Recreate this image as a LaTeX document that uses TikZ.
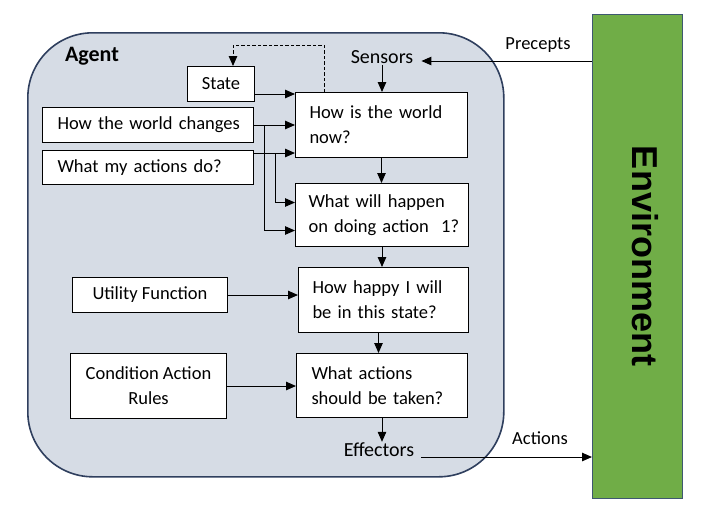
\documentclass[tikz,border=0pt]{standalone}
\usepackage{fontspec}
\setmainfont{Carlito}
\newfontfamily\envfont{Liberation Sans}
\usetikzlibrary{arrows.meta,calc}
\definecolor{agentfill}{HTML}{D6DCE5}
\definecolor{agentline}{HTML}{2F3F5E}
\definecolor{envfill}{HTML}{70AD47}
\definecolor{envline}{HTML}{3E5870}
\tikzset{
  box/.style={draw=black, line width=1pt, fill=white, anchor=north west, inner sep=0pt, font=\fontsize{18.5}{25}\selectfont},
  lbox/.style={box, align=left, inner xsep=14pt},
  cbox/.style={box, align=center},
  arr/.style={-{Triangle[length=10pt,width=8.5pt]}, line width=1pt},
  lbl/.style={font=\fontsize{18.5}{22}\selectfont, inner sep=1pt},
  biglbl/.style={font=\fontsize{20}{24}\selectfont, inner sep=1pt},
  agentbox/.style={draw=agentline, fill=agentfill, line width=1.6pt, rounded corners=65pt, anchor=north west, inner sep=0pt},
  envbox/.style={draw=envline, fill=envfill, line width=1.3pt, anchor=north west, inner sep=0pt}
}
\begin{document}
\begin{tikzpicture}[x=1pt, y=-1pt]
\useasboundingbox (0,0) rectangle (701,515);
% containers
\node[agentbox, minimum width=476pt, minimum height=444pt] (agent) at (27,32) {};
\node[font=\fontsize{22}{26}\selectfont\bfseries, inner sep=0pt] (agentlbl) at (92,56) {Agent};
\node[envbox, minimum width=90pt, minimum height=484pt] (env) at (592,14) {};
\node[rotate=-90, inner sep=0pt, font=\envfont\fontsize{36}{40}\selectfont\bfseries] (envlbl) at (645,256) {Environment};
% boxes
\node[cbox, minimum width=67pt, minimum height=35pt] (state) at (187,66) {State};
\node[biglbl] (sensors) at (382,57) {Sensors};
\node[lbox, text width=144pt, minimum height=65pt] (now) at (295,92) {How is the world\\now?};
\node[lbox, inner xsep=15pt, text width=181pt, minimum height=35pt] (changes) at (42,107) {\mbox{How the world changes}};
\node[lbox, inner xsep=15pt, text width=181pt, minimum height=34pt] (actdo) at (42,150) {\mbox{What my actions do?}};
\node[lbox, inner xsep=13pt, text width=147pt, minimum height=63pt] (happen) at (295,183) {What will happen\\\mbox{on doing action\ \ 1?}};
\node[cbox, minimum width=155pt, minimum height=35pt] (utility) at (72,277) {Utility Function};
\node[lbox, text width=142pt, minimum height=65pt] (happy) at (298,267) {How happy I will\\be in this state?};
\node[cbox, minimum width=156pt, minimum height=65pt] (cond) at (70,353) {Condition Action\\Rules};
\node[lbox, inner xsep=15pt, text width=141pt, minimum height=64pt] (actions) at (296,353) {What actions\\should be taken?};
\node[biglbl] (effectors) at (379,450) {Effectors};
% connectors
\coordinate (s1) at ([yshift=8pt]state.south east);
\draw[arr] (s1) -- (s1 -| now.west);
\coordinate (d1) at ([xshift=29pt]now.north west);
\coordinate (d2) at ([xshift=46pt,yshift=21pt]state.north west);
\draw[arr, dash pattern=on 3.5pt off 2pt] (d1) |- (d2) -- (d2 |- state.north);
\draw[arr] (sensors.south) -- (sensors.south |- now.north);
\draw[arr] (changes.east) -- (changes.east -| now.west);
\coordinate (a1) at ([yshift=-3pt]actdo.north east);
\draw[arr] (a1) -- (a1 -| now.west);
\coordinate (v1) at ([xshift=10pt]changes.east);
\coordinate (h2) at ([yshift=-15.5pt]happen.west);
\draw[arr] (v1) |- (h2);
\coordinate (v2) at ([xshift=21pt]a1);
\coordinate (h1) at ([yshift=12.5pt]happen.west);
\draw[arr] (v2) |- (h1);
\draw[arr] (now.south) -- (now.south |- happen.north);
\draw[arr] (happen.south) -- (happen.south |- happy.north);
\coordinate (hp) at ([xshift=-5pt]happy.south);
\draw[arr] (hp) -- (hp |- actions.north);
\draw[arr] (utility.east) -- (utility.east -| happy.west);
\draw[arr] (cond.east) -- (cond.east -| actions.west);
\draw[arr] (actions.south) -- (actions.south |- effectors.north);
\coordinate (p1) at ([yshift=-47pt]env.north west);
\coordinate (se) at ([xshift=7pt]sensors.east);
\draw[arr] (p1) -- (p1 -| se);
\node[lbl] (precepts) at (538,45) {Precepts};
\coordinate (e1) at ([xshift=6pt,yshift=-7pt]effectors.east);
\draw[arr] (e1) -- (e1 -| env.west);
\node[lbl] (actlbl) at (540,438) {Actions};
\end{tikzpicture}
\end{document}
